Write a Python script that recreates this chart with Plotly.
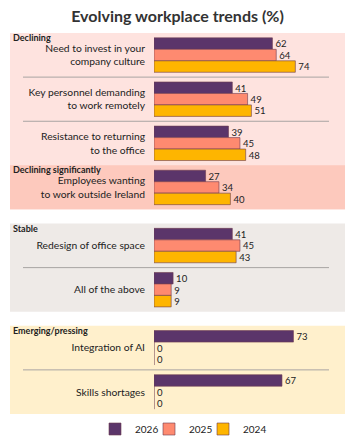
import plotly.graph_objects as go
from plotly.subplots import make_subplots

years = ["2026", "2025", "2024"]
colors = ["#5b356a", "#fe8a70", "#feb500"]

sections = ["Declining", "Stable", "Emerging/pressing"]
cats_declining = ["Need to invest in your<br>company culture",
                  "Key personnel demanding<br>to work remotely",
                  "Resistance to returning<br>to the office",
                  "Employees wanting<br>to work outside Ireland"]
cats_stable = ["Redesign of office space", "All of the above"]
cats_emerging = ["Integration of AI", "Skills shortages"]

vals_declining = {"2026": [62, 41, 39, 27], "2025": [64, 49, 45, 34], "2024": [74, 51, 48, 40]}
vals_stable = {"2026": [41, 10], "2025": [45, 9], "2024": [43, 9]}
vals_emerging = {"2026": [73, 67], "2025": [0, 0], "2024": [0, 0]}

groups = [(cats_declining, vals_declining), (cats_stable, vals_stable), (cats_emerging, vals_emerging)]

FONT = "Lato"
fig = make_subplots(rows=3, cols=1, row_heights=[176, 88, 88], vertical_spacing=14 / 381,
                    shared_xaxes=False)

legend_names = ["legend", "legend2", "legend3"]
for r, (cats, vals) in enumerate(groups, start=1):
    for y, c, lg in zip(years, colors, legend_names):
        fig.add_trace(go.Bar(
            y=cats, x=vals[y], orientation="h", name=y, marker_color=c,
            marker_line=dict(color="rgba(110,60,80,0.6)", width=1),
            text=vals[y], textposition="outside", cliponaxis=False,
            textfont=dict(size=10, color="#222", family=FONT),
            showlegend=(r == 1), legend=lg,
        ), row=r, col=1)
    fig.update_yaxes(autorange="reversed", showgrid=False, ticks="", ticklabelstandoff=8,
                     automargin=False,
                     tickfont=dict(size=10.3, color="#222", family=FONT), row=r, col=1)
    fig.update_xaxes(range=[0, 100], visible=False, automargin=False, row=r, col=1)

bg = ["#fee3df", "#eeeae7", "#fff0cc"]
yrefs = ["y", "y2", "y3"]
shapes = []
annotations = []
L = -(154 - 10) / 191
for i, (yr, col) in enumerate(zip(yrefs, bg)):
    shapes.append(dict(type="rect", xref="paper", yref=yr + " domain", x0=L, x1=1, y0=0, y1=1,
                       fillcolor=col, line_width=0, layer="below"))
# declining significantly sub-panel
shapes.append(dict(type="rect", xref="paper", yref="y", x0=L, x1=1, y0=2.5, y1=3.5,
                   fillcolor="#fdc9bd", line_width=0, layer="below"))
# separators
sx0, sx1 = (23 - 154) / 191, (329 - 154) / 191
for yr, pos in [("y", 0.5), ("y", 1.5), ("y2", 0.5), ("y3", 0.5)]:
    shapes.append(dict(type="line", xref="paper", yref=yr, x0=sx0, x1=sx1, y0=pos, y1=pos,
                       line=dict(color="#a8a4a2", width=1), layer="below"))

sec_labels = [("Declining", "y domain", 1.0), ("Stable", "y2 domain", 1.0),
              ("Emerging/pressing", "y3 domain", 1.0)]
for txt, yr, yy in sec_labels:
    annotations.append(dict(text="<b>" + txt + "</b>", xref="paper", yref=yr, x=L + 0.005, y=yy,
                            xanchor="left", yanchor="top", showarrow=False, yshift=3,
                            font=dict(size=9, color="#222", family=FONT)))
annotations.append(dict(text="<b>Declining significantly</b>", xref="paper", yref="y", x=L + 0.005,
                        y=2.5, xanchor="left", yanchor="top", showarrow=False, yshift=3,
                        font=dict(size=9, color="#222", family=FONT)))

leg_common = dict(orientation="h", xref="container", yref="paper", xanchor="left",
                  y=-15 / 381, yanchor="middle", bgcolor="rgba(0,0,0,0)",
                  font=dict(size=10, color="#222", family=FONT))
legend_x = [95 / 355, 149 / 355, 203 / 355]

fig.update_layout(
    width=355, height=444,
    margin=dict(l=154, r=10, t=33, b=30, autoexpand=False),
    barmode="group", bargap=0.22, bargroupgap=0,
    plot_bgcolor="rgba(0,0,0,0)", paper_bgcolor="white",
    title=dict(text="<b>Evolving workplace trends (%)</b>", x=0.5, xanchor="center",
               y=1 - 16 / 444, yanchor="middle", font=dict(size=16, color="#333", family=FONT)),
    legend=dict(x=legend_x[0], **leg_common),
    legend2=dict(x=legend_x[1], **leg_common),
    legend3=dict(x=legend_x[2], **leg_common),
    shapes=shapes, annotations=annotations,
    font=dict(family=FONT),
)

fig.write_html("out.html", config={"displayModeBar": False},
               post_script="document.body.style.margin='0';document.body.style.overflow='hidden';")
